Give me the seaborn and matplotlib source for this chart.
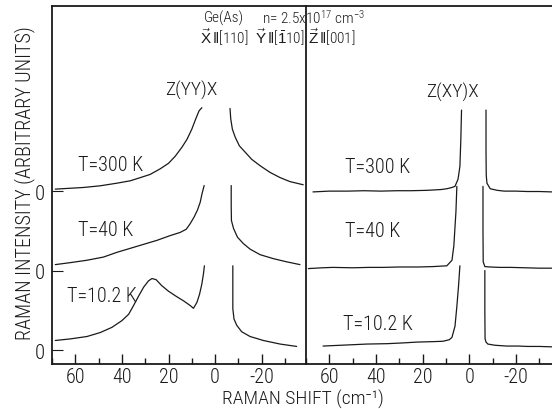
import numpy as np
import pandas as pd
import matplotlib
matplotlib.use("Agg")
import matplotlib.pyplot as plt
import seaborn as sns
from matplotlib.ticker import MultipleLocator, FixedLocator
import logging
logging.getLogger("matplotlib.font_manager").setLevel(logging.ERROR)

# ---------------- data ----------------
temps = ["T=10.2 K", "T=40 K", "T=300 K"]
offsets = [0, 1, 2]
xticks = [60, 40, 20, 0, -20]

# Z(YY)X panel -- Stokes side (left branch) and anti-Stokes side (right branch)
yy300_sx = [68.6, 56.4, 49.3, 42.1, 36.4, 32.1, 27.9, 23.6, 20.0, 17.1, 14.3, 12.1, 10.0, 8.3, 6.9, 5.7]
yy300_sy = [0.025, 0.046, 0.067, 0.10, 0.13, 0.17, 0.21, 0.28, 0.35, 0.44, 0.55, 0.65, 0.78, 0.91, 1.01, 1.05]
yy300_ax = [-6.4, -6.7, -7.4, -8.6, -10.4, -12.9, -15.7, -19.3, -23.6, -27.9, -32.1, -37.8]
yy300_ay = [1.04, 0.91, 0.78, 0.68, 0.57, 0.49, 0.40, 0.32, 0.235, 0.17, 0.12, 0.08]

yy40_sx = [68.6, 62.1, 55.0, 47.9, 42.1, 36.4, 30.7, 25.0, 19.3, 15.0, 12.4, 10.7, 9.0, 7.6, 6.4, 5.6, 4.7]
yy40_sy = [0.075, 0.10, 0.13, 0.17, 0.23, 0.28, 0.33, 0.38, 0.44, 0.48, 0.52, 0.59, 0.675, 0.76, 0.86, 0.97, 1.07]
yy40_ax = [-6.9, -6.9, -7.0, -7.9, -9.6, -12.1, -15.0, -19.3, -25.0, -30.7, -36.4]
yy40_ay = [1.07, 0.82, 0.63, 0.53, 0.42, 0.34, 0.27, 0.20, 0.15, 0.11, 0.075]

yy10_sx = [68.6, 62.1, 55.0, 49.3, 44.3, 40.0, 37.1, 35.0, 32.9, 30.7, 28.6, 27.1, 25.3, 22.9,
           20.0, 16.4, 13.6, 10.7, 9.3, 7.8, 6.7, 5.7, 5.0, 4.6]
yy10_sy = [0.12, 0.14, 0.17, 0.22, 0.285, 0.37, 0.45, 0.56, 0.675, 0.79, 0.87, 0.90, 0.885, 0.81,
           0.74, 0.67, 0.62, 0.56, 0.525, 0.60, 0.70, 0.83, 0.96, 1.06]
yy10_ax = [-7.6, -7.6, -7.6, -8.1, -9.3, -11.4, -15.0, -20.7, -27.9, -35.0]
yy10_ay = [1.06, 0.73, 0.52, 0.39, 0.31, 0.23, 0.17, 0.12, 0.075, 0.045]

# Z(XY)X panel
xy300_sx = [67.0, 60.0, 52.0, 45.0, 38.0, 31.0, 25.0, 18.0, 12.0, 9.6, 7.5, 6.1, 4.8, 4.0, 3.6, 3.3]
xy300_sy = [-0.01, 0.0, 0.0, 0.005, 0.0, 0.005, 0.005, 0.01, 0.02, 0.03, 0.045, 0.06, 0.15, 0.31, 0.65, 1.02]
xy300_ax = [-7.2, -7.2, -7.3, -7.6, -9.0, -12.0, -15.0, -20.0, -25.0, -30.0, -35.5]
xy300_ay = [1.02, 0.50, 0.20, 0.10, 0.03, 0.01, 0.0, 0.0, -0.005, -0.005, -0.01]

xy40_sx = [69.0, 63.0, 58.5, 50.0, 43.0, 37.0, 30.0, 22.0, 15.6, 9.6, 7.4, 6.6, 5.7, 5.3]
xy40_sy = [0.025, 0.035, 0.04, 0.035, 0.04, 0.04, 0.045, 0.045, 0.05, 0.06, 0.13, 0.31, 0.74, 1.06]
xy40_ax = [-5.9, -5.9, -6.0, -6.7, -9.0, -13.0, -18.0, -24.0, -30.0, -35.5]
xy40_ay = [1.06, 0.50, 0.11, 0.05, 0.045, 0.04, 0.04, 0.035, 0.03, 0.03]

xy10_sx = [62.7, 55.0, 43.9, 35.0, 28.0, 22.4, 16.0, 11.3, 8.5, 7.4, 6.1, 5.3, 4.6, 4.0]
xy10_sy = [0.05, 0.06, 0.075, 0.08, 0.09, 0.10, 0.105, 0.11, 0.13, 0.16, 0.30, 0.55, 0.80, 1.06]
xy10_ax = [-6.7, -6.7, -6.8, -7.2, -8.0, -11.0, -16.0, -21.0, -25.0, -30.0, -35.5]
xy10_ay = [1.00, 0.50, 0.14, 0.10, 0.075, 0.06, 0.05, 0.05, 0.045, 0.045, 0.04]

panels = {
    "Z(YY)X": [(yy10_sx, yy10_sy, yy10_ax, yy10_ay),
               (yy40_sx, yy40_sy, yy40_ax, yy40_ay),
               (yy300_sx, yy300_sy, yy300_ax, yy300_ay)],
    "Z(XY)X": [(xy10_sx, xy10_sy, xy10_ax, xy10_ay),
               (xy40_sx, xy40_sy, xy40_ax, xy40_ay),
               (xy300_sx, xy300_sy, xy300_ax, xy300_ay)],
}

# ---------------- style ----------------
sns.set_theme(style="ticks")
FAM = ["Roboto Condensed", "Liberation Sans", "DejaVu Sans"]
plt.rcParams["font.family"] = FAM
plt.rcParams["font.weight"] = "light"
plt.rcParams["mathtext.fontset"] = "custom"
plt.rcParams["mathtext.rm"] = "Liberation Sans"
plt.rcParams["mathtext.it"] = "Liberation Sans:italic"
plt.rcParams["mathtext.bf"] = "Liberation Sans:bold"

INK = "#1a1a1a"
W, H = 552, 410
fig = plt.figure(figsize=(W / 100, H / 100), dpi=100)
fig.patch.set_facecolor("white")

def fx(px):
    return px / W

def fy(py):
    return 1 - py / H

ax1 = fig.add_axes([fx(52), fy(365), fx(306) - fx(52), fy(7) - fy(365)])
ax2 = fig.add_axes([fx(306), fy(365), fx(552) - fx(306), fy(7) - fy(365)])

def build(panel):
    rows = []
    for (sx, sy, axx, ayy), t, off in zip(panels[panel], temps, offsets):
        for br, xs, ys in (("s", sx, sy), ("a", axx, ayy)):
            for x, y in zip(xs, ys):
                rows.append(dict(shift=x, inten=y + off, curve=f"{t}-{br}"))
    return pd.DataFrame(rows)

for ax, panel, xr in ((ax1, "Z(YY)X", (70, -39)), (ax2, "Z(XY)X", (70, -35.5))):
    df = build(panel)
    for name, g in df.groupby("curve", sort=False):
        sns.lineplot(data=g, x="shift", y="inten", ax=ax, sort=False,
                     estimator=None, color=INK, lw=0.9)
    ax.set_xlim(*xr)
    ax.set_ylim(-0.176, 4.33)
    ax.set_xlabel("")
    ax.set_ylabel("")
    ax.xaxis.set_major_locator(FixedLocator(xticks))
    ax.xaxis.set_minor_locator(MultipleLocator(10))
    ax.tick_params(axis="x", which="major", direction="in", length=7, width=1,
                   labelsize=14.5, pad=2.5, colors=INK)
    ax.tick_params(axis="x", which="minor", direction="in", length=4, width=1, colors=INK)
    for s in ax.spines.values():
        s.set_color(INK)
        s.set_linewidth(1.3)
    ax.spines["right"].set_visible(False)
    ax.set_xticklabels([str(v) for v in xticks])

ax1.set_yticks(offsets)
ax1.set_yticklabels(["0", "0", "0"])
ax1.tick_params(axis="y", direction="in", length=8, width=0.8, labelsize=15, pad=5, colors=INK)
ax2.set_yticks([])

# temperature labels
for ax, pos in ((ax1, [(63.4, 0.68), (59, 1.52), (59, 2.34)]),
                (ax2, [(54.0, 0.34), (53.3, 1.50), (53.3, 2.31)])):
    for t, (x, y) in zip(temps, pos):
        ax.text(x, y, t, fontsize=14.5, color=INK, ha="left", va="center")

ax1.text(0.55, 0.768, "Z(YY)X", transform=ax1.transAxes, fontsize=14, color=INK,
         ha="center", va="center")
ax2.text(0.595, 0.760, "Z(XY)X", transform=ax2.transAxes, fontsize=14, color=INK,
         ha="center", va="center")

# header texts
fig.text(fx(224), fy(18), "Ge(As)", fontsize=11, color=INK, ha="center", va="center")
fig.text(fx(262), fy(18), r"n= 2.5x10$^{\mathregular{17}}$ cm$^{\mathregular{-3}}$",
         fontsize=11, color=INK, ha="left", va="center")
fig.text(fx(224), fy(37), r"$\vec{\mathrm{X}}\,\Vert$" + "[110]", fontsize=11, color=INK,
         ha="center", va="center")
fig.text(fx(280), fy(37), r"$\vec{\mathrm{Y}}\,\Vert$" + "[" + r"$\bar{\mathrm{1}}$" + "10]",
         fontsize=11, color=INK, ha="center", va="center")
fig.text(fx(332), fy(37), r"$\vec{\mathrm{Z}}\,\Vert$" + "[001]", fontsize=11, color=INK,
         ha="center", va="center")

fig.text(fx(303), fy(409.5), "RAMAN SHIFT (cm\u207b\u00b9)", fontsize=14, color=INK,
         ha="center", va="bottom")
fig.text(fx(25), fy(183), "RAMAN INTENSITY (ARBITRARY UNITS)", fontsize=14.5, color=INK,
         ha="center", va="center", rotation=90)

fig.savefig("out.png", dpi=100, facecolor="white")
